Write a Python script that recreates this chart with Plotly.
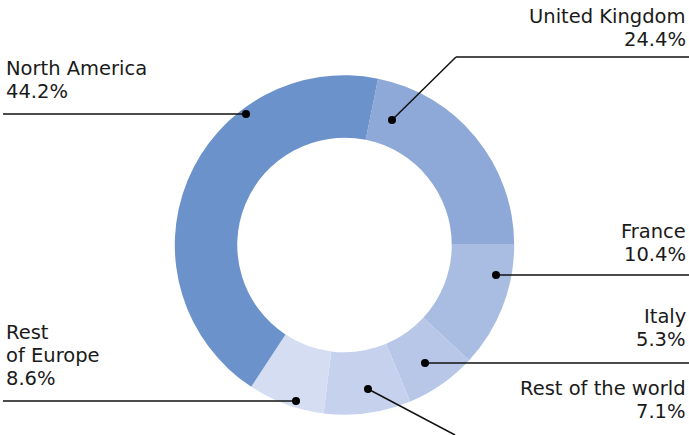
import plotly.graph_objects as go

regions = ['United Kingdom', 'France', 'Italy', 'Rest of the world', 'Rest of Europe', 'North America']
shares = [21.8, 11.9, 6.8, 8.3, 7.3, 43.9]
# percentages as printed on the labels
label_pct = ['24.4%', '10.4%', '5.3%', '7.1%', '8.6%', '44.2%']
label_names = [['United Kingdom'], ['France'], ['Italy'], ['Rest of the world'],
               ['Rest', 'of Europe'], ['North America']]
colors = ['#8ea9d7', '#a9bce2', '#b8c7e8', '#c6d2ed', '#d4ddf2', '#6b92cb']

W, H = 689, 435
CX, CY, R = 344.7, 245.0, 169.7
LINE_H = 23

# label layout: text anchor (px), side, leader path (px)
label_pos = [
    (688, 3, 'right', [(392, 120), (456, 57), (689, 57)]),
    (688, 218, 'right', [(496, 275), (689, 275)]),
    (688, 303, 'right', [(425, 363), (689, 363)]),
    (688, 375, 'right', [(368, 389), (455, 435)]),
    (4, 319, 'left', [(296, 401), (3, 401)]),
    (4, 55, 'left', [(246, 114), (3, 114)]),
]

fig = go.Figure()

fig.add_trace(go.Pie(
    labels=regions,
    values=shares,
    hole=0.632,
    sort=False,
    direction='clockwise',
    rotation=11.4,
    marker=dict(colors=colors, line=dict(width=0)),
    textinfo='none',
    hoverinfo='skip',
    showlegend=False,
    domain=dict(x=[0, 1], y=[1 - (CY + R) / H, 1 - (CY - R) / H]),
))

shapes = []
annotations = []
for name, pct, (tx, ty, side, path) in zip(label_names, label_pct, label_pos):
    # leader line + dot, drawn above the pie
    for (x0, y0), (x1, y1) in zip(path[:-1], path[1:]):
        shapes.append(dict(type='line', xref='x', yref='y', x0=x0, y0=y0, x1=x1, y1=y1,
                           line=dict(color='#111111', width=1.5), layer='above'))
    dx, dy = path[0]
    shapes.append(dict(type='circle', xref='x', yref='y', x0=dx - 4, y0=dy - 4, x1=dx + 4, y1=dy + 4,
                       fillcolor='#000000', line=dict(width=0), layer='above'))
    for i, line in enumerate(name + [pct]):
        annotations.append(dict(
            x=tx / W, y=1 - (ty + i * LINE_H) / H, xref='paper', yref='paper',
            xanchor=side, yanchor='top', align=side,
            text=line, showarrow=False,
            font=dict(family='DejaVu Sans', size=19.5, color='#1a1a1a'),
        ))

fig.update_layout(
    width=W, height=H,
    margin=dict(l=0, r=0, t=0, b=0),
    paper_bgcolor='white',
    plot_bgcolor='rgba(0,0,0,0)',
    xaxis=dict(range=[0, W], visible=False, fixedrange=True),
    yaxis=dict(range=[H, 0], visible=False, fixedrange=True),
    shapes=shapes,
    annotations=annotations,
)

# drop the page's default body margin so the figure sits at the window corner
fig.write_html("out.html", config={'displayModeBar': False},
               post_script="document.body.style.margin='0px';")
